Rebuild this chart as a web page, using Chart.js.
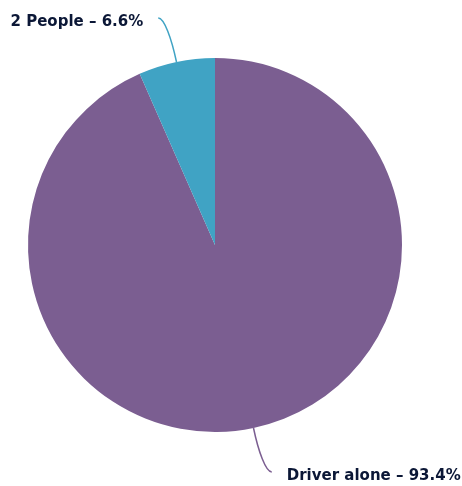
<!DOCTYPE html>
<html>
<head>
<meta charset="utf-8">
<script src="https://cdn.jsdelivr.net/npm/chart.js@4"></script>
<style>
html,body{margin:0;padding:0;background:#fff;}
#wrap{width:462px;height:486px;}
</style>
</head>
<body>
<div id="wrap"><canvas id="c" width="462" height="486"></canvas></div>
<script>
const categories = ["Driver alone", "2 People"];
const values = [93.4, 6.6];
const colors = ["#7b5e91", "#40a3c4"];

const leaderPlugin = {
  id: 'leaders',
  afterDatasetsDraw(chart) {
    const ctx = chart.ctx;
    const meta = chart.getDatasetMeta(0);
    meta.data.forEach((arc, i) => {
      const p = arc.getProps(['x','y','startAngle','endAngle','outerRadius'], true);
      const mid = (p.startAngle + p.endAngle) / 2;
      const cos = Math.cos(mid), sin = Math.sin(mid);
      const r = p.outerRadius;
      const sx = p.x + cos * r, sy = p.y + sin * r;
      const sign = cos >= 0 ? 1 : -1;
      const ex = p.x + cos * (r + 45) + sign * 9;
      const ey = p.y + sin * (r + 45);
      const c1x = p.x + cos * (r + 24), c1y = p.y + sin * (r + 24);
      const c2x = ex - sign * 6, c2y = ey;
      ctx.save();
      ctx.strokeStyle = colors[i];
      ctx.lineWidth = 1.5;
      ctx.beginPath();
      ctx.moveTo(sx, sy);
      ctx.bezierCurveTo(c1x, c1y, c2x, c2y, ex, ey);
      ctx.stroke();
      ctx.fillStyle = '#0b1736';
      ctx.font = 'bold 15px "DejaVu Sans"';
      ctx.textBaseline = 'middle';
      ctx.textAlign = sign > 0 ? 'left' : 'right';
      ctx.fillText(categories[i] + ' \u2013 ' + values[i] + '%', ex + sign * 15, ey + 4);
      ctx.restore();
    });
  }
};

new Chart(document.getElementById('c'), {
  type: 'pie',
  data: {
    labels: categories,
    datasets: [{ data: values, backgroundColor: colors, borderWidth: 0 }]
  },
  options: {
    responsive: false,
    animation: false,
    layout: { padding: { left: 28, right: 60, top: 58, bottom: 54 } },
    plugins: { legend: { display: false }, tooltip: { enabled: false } }
  },
  plugins: [leaderPlugin]
});
</script>
</body>
</html>
